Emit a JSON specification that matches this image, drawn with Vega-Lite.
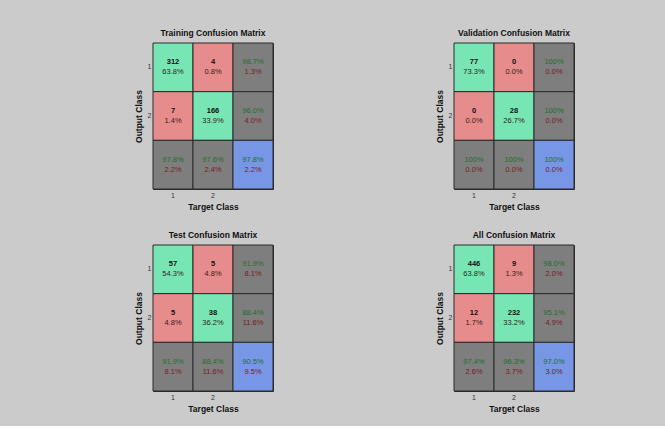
{
  "$schema": "https://vega.github.io/schema/vega-lite/v6.json",
  "background": "#cbcbcb",
  "padding": {"left": 133, "top": 28, "right": 90, "bottom": 13},
  "datasets": {
    "cm": [
      {"m": "Training", "row": 1, "col": 1, "top": "312", "bot": "63.8%", "kind": "diag"},
      {"m": "Training", "row": 1, "col": 2, "top": "4", "bot": "0.8%", "kind": "off"},
      {"m": "Training", "row": 1, "col": 3, "top": "98.7%", "bot": "1.3%", "kind": "margin"},
      {"m": "Training", "row": 2, "col": 1, "top": "7", "bot": "1.4%", "kind": "off"},
      {"m": "Training", "row": 2, "col": 2, "top": "166", "bot": "33.9%", "kind": "diag"},
      {"m": "Training", "row": 2, "col": 3, "top": "96.0%", "bot": "4.0%", "kind": "margin"},
      {"m": "Training", "row": 3, "col": 1, "top": "97.8%", "bot": "2.2%", "kind": "margin"},
      {"m": "Training", "row": 3, "col": 2, "top": "97.6%", "bot": "2.4%", "kind": "margin"},
      {"m": "Training", "row": 3, "col": 3, "top": "97.8%", "bot": "2.2%", "kind": "total"},
      {"m": "Validation", "row": 1, "col": 1, "top": "77", "bot": "73.3%", "kind": "diag"},
      {"m": "Validation", "row": 1, "col": 2, "top": "0", "bot": "0.0%", "kind": "off"},
      {"m": "Validation", "row": 1, "col": 3, "top": "100%", "bot": "0.0%", "kind": "margin"},
      {"m": "Validation", "row": 2, "col": 1, "top": "0", "bot": "0.0%", "kind": "off"},
      {"m": "Validation", "row": 2, "col": 2, "top": "28", "bot": "26.7%", "kind": "diag"},
      {"m": "Validation", "row": 2, "col": 3, "top": "100%", "bot": "0.0%", "kind": "margin"},
      {"m": "Validation", "row": 3, "col": 1, "top": "100%", "bot": "0.0%", "kind": "margin"},
      {"m": "Validation", "row": 3, "col": 2, "top": "100%", "bot": "0.0%", "kind": "margin"},
      {"m": "Validation", "row": 3, "col": 3, "top": "100%", "bot": "0.0%", "kind": "total"},
      {"m": "Test", "row": 1, "col": 1, "top": "57", "bot": "54.3%", "kind": "diag"},
      {"m": "Test", "row": 1, "col": 2, "top": "5", "bot": "4.8%", "kind": "off"},
      {"m": "Test", "row": 1, "col": 3, "top": "91.9%", "bot": "8.1%", "kind": "margin"},
      {"m": "Test", "row": 2, "col": 1, "top": "5", "bot": "4.8%", "kind": "off"},
      {"m": "Test", "row": 2, "col": 2, "top": "38", "bot": "36.2%", "kind": "diag"},
      {"m": "Test", "row": 2, "col": 3, "top": "88.4%", "bot": "11.6%", "kind": "margin"},
      {"m": "Test", "row": 3, "col": 1, "top": "91.9%", "bot": "8.1%", "kind": "margin"},
      {"m": "Test", "row": 3, "col": 2, "top": "88.4%", "bot": "11.6%", "kind": "margin"},
      {"m": "Test", "row": 3, "col": 3, "top": "90.5%", "bot": "9.5%", "kind": "total"},
      {"m": "All", "row": 1, "col": 1, "top": "446", "bot": "63.8%", "kind": "diag"},
      {"m": "All", "row": 1, "col": 2, "top": "9", "bot": "1.3%", "kind": "off"},
      {"m": "All", "row": 1, "col": 3, "top": "98.0%", "bot": "2.0%", "kind": "margin"},
      {"m": "All", "row": 2, "col": 1, "top": "12", "bot": "1.7%", "kind": "off"},
      {"m": "All", "row": 2, "col": 2, "top": "232", "bot": "33.2%", "kind": "diag"},
      {"m": "All", "row": 2, "col": 3, "top": "95.1%", "bot": "4.9%", "kind": "margin"},
      {"m": "All", "row": 3, "col": 1, "top": "97.4%", "bot": "2.6%", "kind": "margin"},
      {"m": "All", "row": 3, "col": 2, "top": "96.3%", "bot": "3.7%", "kind": "margin"},
      {"m": "All", "row": 3, "col": 3, "top": "97.0%", "bot": "3.0%", "kind": "total"}
    ]
  },
  "columns": 2,
  "spacing": {"row": 19, "column": 160},
  "concat": [
    {
      "title": "Training Confusion Matrix",
      "width": 120, "height": 146,
      "data": {"name": "cm"},
      "transform": [{"filter": "datum.m === 'Training'"}],
      "encoding": {
        "x": {"field": "col", "type": "ordinal", "scale": {"domain": [1, 2, 3], "paddingInner": 0, "paddingOuter": 0}, "axis": {"title": "Target Class", "labelAngle": 0, "labelExpr": "datum.value == 3 ? '' : datum.label"}},
        "y": {"field": "row", "type": "ordinal", "scale": {"domain": [1, 2, 3], "paddingInner": 0, "paddingOuter": 0}, "axis": {"title": "Output Class", "labelExpr": "datum.value == 3 ? '' : datum.label"}}
      },
      "layer": [
        {"mark": {"type": "rect", "stroke": "#2a2a2a", "strokeWidth": 1}, "encoding": {"color": {"field": "kind", "type": "nominal", "scale": {"domain": ["diag", "off", "margin", "total"], "range": ["#78e6b4", "#e68c8c", "#7e7e7e", "#7896e6"]}, "legend": null}}},
        {"transform": [{"filter": "datum.kind === 'diag' || datum.kind === 'off'"}], "mark": {"type": "text", "dy": -5, "fontWeight": "bold", "fontSize": 7.5, "color": "#111111"}, "encoding": {"text": {"field": "top"}}},
        {"transform": [{"filter": "datum.kind === 'margin' || datum.kind === 'total'"}], "mark": {"type": "text", "dy": -5, "fontSize": 7.5, "color": "#1f6e2a"}, "encoding": {"text": {"field": "top"}}},
        {"mark": {"type": "text", "dy": 5, "fontSize": 7.5}, "encoding": {"text": {"field": "bot"}, "color": {"condition": {"test": "datum.kind === 'margin' || datum.kind === 'total'", "value": "#7a1a22"}, "value": "#3a2020"}}}
      ]
    },
    {
      "title": "Validation Confusion Matrix",
      "width": 120, "height": 146,
      "data": {"name": "cm"},
      "transform": [{"filter": "datum.m === 'Validation'"}],
      "encoding": {
        "x": {"field": "col", "type": "ordinal", "scale": {"domain": [1, 2, 3], "paddingInner": 0, "paddingOuter": 0}, "axis": {"title": "Target Class", "labelAngle": 0, "labelExpr": "datum.value == 3 ? '' : datum.label"}},
        "y": {"field": "row", "type": "ordinal", "scale": {"domain": [1, 2, 3], "paddingInner": 0, "paddingOuter": 0}, "axis": {"title": "Output Class", "labelExpr": "datum.value == 3 ? '' : datum.label"}}
      },
      "layer": [
        {"mark": {"type": "rect", "stroke": "#2a2a2a", "strokeWidth": 1}, "encoding": {"color": {"field": "kind", "type": "nominal", "scale": {"domain": ["diag", "off", "margin", "total"], "range": ["#78e6b4", "#e68c8c", "#7e7e7e", "#7896e6"]}, "legend": null}}},
        {"transform": [{"filter": "datum.kind === 'diag' || datum.kind === 'off'"}], "mark": {"type": "text", "dy": -5, "fontWeight": "bold", "fontSize": 7.5, "color": "#111111"}, "encoding": {"text": {"field": "top"}}},
        {"transform": [{"filter": "datum.kind === 'margin' || datum.kind === 'total'"}], "mark": {"type": "text", "dy": -5, "fontSize": 7.5, "color": "#1f6e2a"}, "encoding": {"text": {"field": "top"}}},
        {"mark": {"type": "text", "dy": 5, "fontSize": 7.5}, "encoding": {"text": {"field": "bot"}, "color": {"condition": {"test": "datum.kind === 'margin' || datum.kind === 'total'", "value": "#7a1a22"}, "value": "#3a2020"}}}
      ]
    },
    {
      "title": "Test Confusion Matrix",
      "width": 120, "height": 146,
      "data": {"name": "cm"},
      "transform": [{"filter": "datum.m === 'Test'"}],
      "encoding": {
        "x": {"field": "col", "type": "ordinal", "scale": {"domain": [1, 2, 3], "paddingInner": 0, "paddingOuter": 0}, "axis": {"title": "Target Class", "labelAngle": 0, "labelExpr": "datum.value == 3 ? '' : datum.label"}},
        "y": {"field": "row", "type": "ordinal", "scale": {"domain": [1, 2, 3], "paddingInner": 0, "paddingOuter": 0}, "axis": {"title": "Output Class", "labelExpr": "datum.value == 3 ? '' : datum.label"}}
      },
      "layer": [
        {"mark": {"type": "rect", "stroke": "#2a2a2a", "strokeWidth": 1}, "encoding": {"color": {"field": "kind", "type": "nominal", "scale": {"domain": ["diag", "off", "margin", "total"], "range": ["#78e6b4", "#e68c8c", "#7e7e7e", "#7896e6"]}, "legend": null}}},
        {"transform": [{"filter": "datum.kind === 'diag' || datum.kind === 'off'"}], "mark": {"type": "text", "dy": -5, "fontWeight": "bold", "fontSize": 7.5, "color": "#111111"}, "encoding": {"text": {"field": "top"}}},
        {"transform": [{"filter": "datum.kind === 'margin' || datum.kind === 'total'"}], "mark": {"type": "text", "dy": -5, "fontSize": 7.5, "color": "#1f6e2a"}, "encoding": {"text": {"field": "top"}}},
        {"mark": {"type": "text", "dy": 5, "fontSize": 7.5}, "encoding": {"text": {"field": "bot"}, "color": {"condition": {"test": "datum.kind === 'margin' || datum.kind === 'total'", "value": "#7a1a22"}, "value": "#3a2020"}}}
      ]
    },
    {
      "title": "All Confusion Matrix",
      "width": 120, "height": 146,
      "data": {"name": "cm"},
      "transform": [{"filter": "datum.m === 'All'"}],
      "encoding": {
        "x": {"field": "col", "type": "ordinal", "scale": {"domain": [1, 2, 3], "paddingInner": 0, "paddingOuter": 0}, "axis": {"title": "Target Class", "labelAngle": 0, "labelExpr": "datum.value == 3 ? '' : datum.label"}},
        "y": {"field": "row", "type": "ordinal", "scale": {"domain": [1, 2, 3], "paddingInner": 0, "paddingOuter": 0}, "axis": {"title": "Output Class", "labelExpr": "datum.value == 3 ? '' : datum.label"}}
      },
      "layer": [
        {"mark": {"type": "rect", "stroke": "#2a2a2a", "strokeWidth": 1}, "encoding": {"color": {"field": "kind", "type": "nominal", "scale": {"domain": ["diag", "off", "margin", "total"], "range": ["#78e6b4", "#e68c8c", "#7e7e7e", "#7896e6"]}, "legend": null}}},
        {"transform": [{"filter": "datum.kind === 'diag' || datum.kind === 'off'"}], "mark": {"type": "text", "dy": -5, "fontWeight": "bold", "fontSize": 7.5, "color": "#111111"}, "encoding": {"text": {"field": "top"}}},
        {"transform": [{"filter": "datum.kind === 'margin' || datum.kind === 'total'"}], "mark": {"type": "text", "dy": -5, "fontSize": 7.5, "color": "#1f6e2a"}, "encoding": {"text": {"field": "top"}}},
        {"mark": {"type": "text", "dy": 5, "fontSize": 7.5}, "encoding": {"text": {"field": "bot"}, "color": {"condition": {"test": "datum.kind === 'margin' || datum.kind === 'total'", "value": "#7a1a22"}, "value": "#3a2020"}}}
      ]
    }
  ],
  "config": {
    "font": "Liberation Sans, sans-serif",
    "view": {"stroke": "#2a2a2a"},
    "title": {"fontSize": 8.5, "fontWeight": "bold", "color": "#111111", "offset": 5, "font": "Liberation Sans, sans-serif"},
    "axis": {"domain": false, "ticks": false, "labelFontSize": 7, "labelColor": "#333333", "labelPadding": 2, "titleFontSize": 8.5, "titleFontWeight": "bold", "titleColor": "#111111", "titlePadding": 4, "labelFont": "Liberation Sans, sans-serif", "titleFont": "Liberation Sans, sans-serif"}
  }
}
